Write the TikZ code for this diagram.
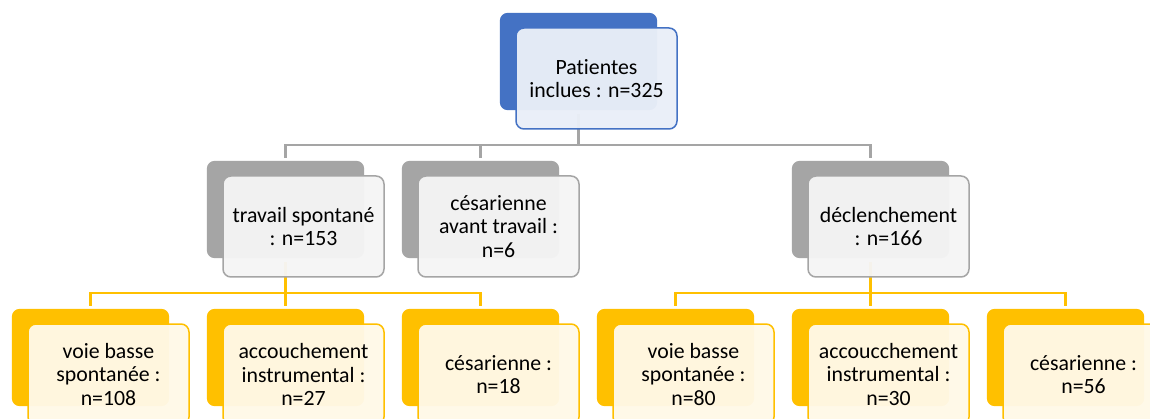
\documentclass[tikz,border=0pt]{standalone}
\usepackage{fontspec}
\setmainfont{Carlito}[Ligatures=NoCommon]
\definecolor{cblue}{HTML}{4472C4}
\definecolor{cgray}{HTML}{A5A5A5}
\definecolor{cyell}{HTML}{FFC000}
\definecolor{fblue}{HTML}{EAEFF8}
\definecolor{fgray}{HTML}{F5F5F5}
\definecolor{fyell}{HTML}{FFF9E8}
\begin{document}
\begin{tikzpicture}[x=1pt,y=-1pt,
  back/.style={rounded corners=8pt, minimum width=157pt, minimum height=97pt, inner sep=0pt},
  front/.style={rounded corners=8pt, minimum width=161pt, minimum height=101pt, inner sep=0pt, line width=1.5pt, fill opacity=0.96, text opacity=1, align=center, font=\fontsize{21.8}{23.5}\selectfont, text=black},
  gcon/.style={draw=cgray, line width=2.7pt},
  ycon/.style={draw=cyell, line width=2.7pt}]
\clip (0,0) rectangle (1150,419);
\fill[white] (0,0) rectangle (1150,419);
% junctions
\coordinate (j0) at (578.5,145);
\coordinate (j1) at (285.5,293);
\coordinate (j2) at (870.5,293);
% back boxes (positions only, drawn later)
\path (578.5,61.5) node[back] (b0) {};
\path (285.5,209.5) node[back] (b1) {};
\path (480.5,209.5) node[back] (b2) {};
\path (870.5,209.5) node[back] (b3) {};
\path (90.5,357.5) node[back] (c1) {};
\path (285.5,357.5) node[back] (c2) {};
\path (480.5,357.5) node[back] (c3) {};
\path (675.5,357.5) node[back] (c4) {};
\path (870.5,357.5) node[back] (c5) {};
\path (1065.5,357.5) node[back] (c6) {};
% connectors
\draw[gcon, shorten <=4pt] (b0.south) -- (j0);
\draw[gcon, shorten >=3pt] (j0) -| (b1.north);
\draw[gcon, shorten >=3pt] (j0) -| (b2.north);
\draw[gcon, shorten >=3pt] (j0) -| (b3.north);
\draw[ycon, shorten <=4pt] (b1.south) -- (j1);
\draw[ycon, shorten >=3pt] (j1) -| (c1.north);
\draw[ycon, shorten >=3pt] (j1) -| (c2.north);
\draw[ycon, shorten >=3pt] (j1) -| (c3.north);
\draw[ycon, shorten <=4pt] (b3.south) -- (j2);
\draw[ycon, shorten >=3pt] (j2) -| (c4.north);
\draw[ycon, shorten >=3pt] (j2) -| (c5.north);
\draw[ycon, shorten >=3pt] (j2) -| (c6.north);
% back fills
\fill[cblue, rounded corners=8pt] (b0.south west) rectangle (b0.north east);
\foreach \n in {b1,b2,b3} \fill[cgray, rounded corners=8pt] (\n.south west) rectangle (\n.north east);
\foreach \n in {c1,c2,c3,c4,c5,c6} \fill[cyell, rounded corners=8pt] (\n.south west) rectangle (\n.north east);
% front boxes
\node[front, draw=cblue, fill=fblue] (f0) at (596.5,78.5) {Patientes\\inclues : n=325};
\node[front, draw=cgray, fill=fgray] (f1) at (303.5,226.5) {travail spontané\\: n=153};
\node[front, draw=cgray, fill=fgray] (f2) at (498.5,226.5) {césarienne\\avant travail :\\n=6};
\node[front, draw=cgray, fill=fgray] (f3) at (888.5,226.5) {déclenchement\\: n=166};
\node[front, draw=cyell, fill=fyell] (g1) at (108.5,374.5) {voie basse\\spontanée :\\n=108};
\node[front, draw=cyell, fill=fyell] (g2) at (303.5,374.5) {accouchement\\instrumental :\\n=27};
\node[front, draw=cyell, fill=fyell] (g3) at (498.5,374.5) {césarienne :\\n=18};
\node[front, draw=cyell, fill=fyell] (g4) at (693.5,374.5) {voie basse\\spontanée :\\n=80};
\node[front, draw=cyell, fill=fyell] (g5) at (888.5,374.5) {accoucchement\\instrumental :\\n=30};
\node[front, draw=cyell, fill=fyell] (g6) at (1083.5,374.5) {césarienne :\\n=56};
\end{tikzpicture}
\end{document}
